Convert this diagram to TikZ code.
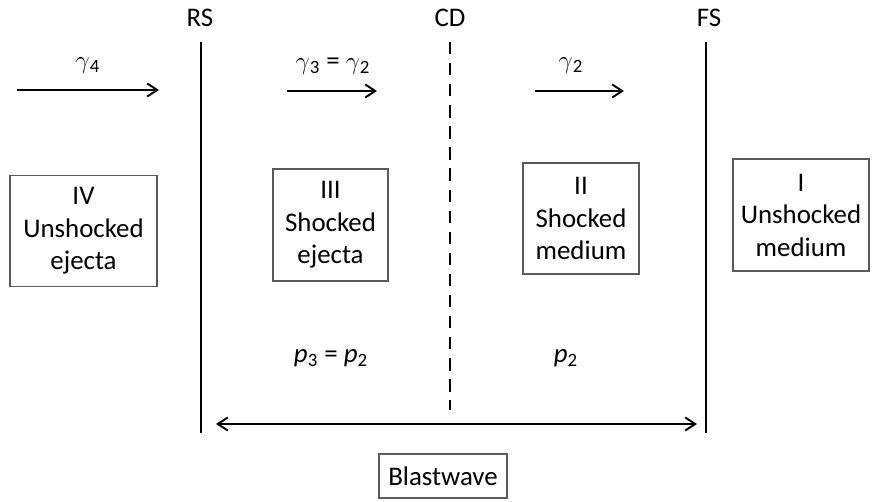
\documentclass[tikz,border=0pt]{standalone}
\usepackage{fontspec}
\setmainfont{Carlito}
\usetikzlibrary{arrows.meta,positioning}
\definecolor{boxgray}{RGB}{90,90,90}

\begin{document}
\begin{tikzpicture}[x=0.02cm, y=-0.02cm, font=\fontsize{15.3}{18.5}\selectfont,
    >={Straight Barb[length=2mm, width=2.6mm]},
    region/.style={draw=boxgray, line width=0.6pt, align=center, inner sep=0pt},
    front/.style={line width=1.2pt},
    flow/.style={->, line width=1.1pt}]
        \useasboundingbox (0,0) rectangle (873,502);

        % shock fronts and contact discontinuity
        \node (rs) at (200,18) {RS};
        \node (cd) at (450,18) {CD};
        \node (fs) at (709,18) {FS};
        \coordinate (rstop) at (201,42);  \coordinate (rsbot) at (201,433);
        \coordinate (cdtop) at (450,42);  \coordinate (cdbot) at (450,410);
        \coordinate (fstop) at (706,42);  \coordinate (fsbot) at (706,433);
        \draw[front] (rstop) -- (rsbot);
        \draw[front] (fstop) -- (fsbot);
        \draw[front, dash pattern=on 7pt off 5pt] (cdtop) -- (cdbot);

        % Lorentz factors
        \node (g4) at (88,66) {$\gamma$\textsubscript{4}};
        \node (g32) at (333,66) {$\gamma$\textsubscript{3} = $\gamma$\textsubscript{2}};
        \node (g2) at (571,66) {$\gamma$\textsubscript{2}};
        \coordinate (a4s) at (17,90);   \coordinate (a4e) at (159,90);
        \coordinate (a3s) at (287,91);  \coordinate (a3e) at (377,91);
        \coordinate (a2s) at (535,91);  \coordinate (a2e) at (624,91);
        \draw[flow] (a4s) -- (a4e);
        \draw[flow] (a3s) -- (a3e);
        \draw[flow] (a2s) -- (a2e);

        % regions
        \node[region, minimum width=2.94cm, minimum height=2.22cm] (r4) at (83.5,231) {IV\\Unshocked\\ejecta};
        \node[region, minimum width=2.3cm, minimum height=2.24cm] (r3) at (330.5,225) {III\\Shocked\\ejecta};
        \node[region, minimum width=2.32cm, minimum height=2.22cm] (r2) at (581,218.5) {II\\Shocked\\medium};
        \node[region, minimum width=2.72cm, minimum height=2.24cm] (r1) at (801,215) {I\\Unshocked\\medium};

        % pressures
        \node (p32) at (331,358) {\textit{p}\textsubscript{3} = \textit{p}\textsubscript{2}};
        \node (p2) at (566,358) {\textit{p}\textsubscript{2}};

        % blastwave extent
        \coordinate (bwl) at (216,424);
        \coordinate (bwr) at (697,424);
        \draw[<->, line width=1.1pt] (bwl) -- (bwr);
        \node[region, minimum width=2.56cm, minimum height=0.88cm] (bw) at (443,476) {Blastwave};
    \end{tikzpicture}
\end{document}
